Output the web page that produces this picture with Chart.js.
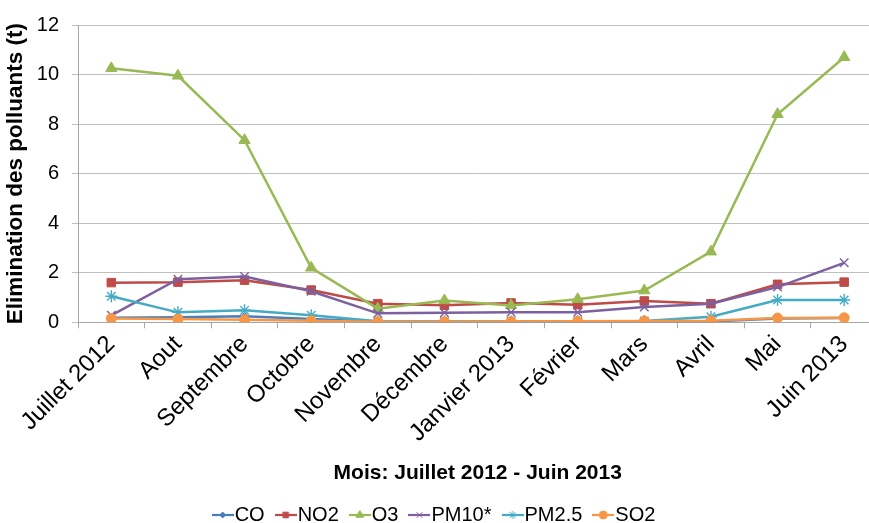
<!DOCTYPE html>
<html lang="fr">
<head>
  <meta charset="UTF-8">
  <title>Elimination des polluants</title>
  <style>
    html, body { margin: 0; padding: 0; background: #fff; overflow: hidden; }
    /* the Excel plot runs a little past the right edge of the picture,
       so the canvas is wider than the window and shifted left */
    #wrap { position: absolute; left: -9px; top: 0; width: 894px; height: 523px; }
  </style>
</head>
<body>
  <div id="wrap"><canvas id="chart"></canvas></div>

  <script src="https://cdn.jsdelivr.net/npm/chart.js@4.4.0/dist/chart.umd.min.js"></script>
  <script>
    const months = ['Juillet 2012', 'Aout', 'Septembre', 'Octobre', 'Novembre', 'Décembre',
      'Janvier 2013', 'Février', 'Mars', 'Avril', 'Mai', 'Juin 2013'];

    const co   = [0.18, 0.20, 0.24, 0.13, 0.02, 0.02, 0.02, 0.02, 0.02, 0.03, 0.15, 0.17];
    const no2  = [1.60, 1.62, 1.70, 1.30, 0.75, 0.69, 0.78, 0.71, 0.86, 0.75, 1.53, 1.62];
    const o3   = [10.25, 9.95, 7.35, 2.20, 0.55, 0.88, 0.68, 0.93, 1.28, 2.85, 8.40, 10.70];
    const pm10 = [0.28, 1.74, 1.85, 1.25, 0.36, 0.38, 0.40, 0.40, 0.62, 0.75, 1.42, 2.40];
    const pm25 = [1.05, 0.40, 0.48, 0.28, 0.04, 0.03, 0.03, 0.04, 0.05, 0.22, 0.90, 0.90];
    const so2  = [0.15, 0.13, 0.10, 0.06, 0.02, 0.02, 0.03, 0.04, 0.05, 0.06, 0.17, 0.18];

    const yTicks = [0, 2, 4, 6, 8, 10, 12];

    const fontName = '"Liberation Sans", Arial, sans-serif';

    // legend swatch: short line with the marker in the middle, like Excel
    function swatch(color, style, r) {
      const c = document.createElement('canvas');
      c.width = 22; c.height = 14;
      const g = c.getContext('2d');
      g.strokeStyle = color; g.fillStyle = color; g.lineWidth = 2.2;
      g.beginPath(); g.moveTo(0, 7); g.lineTo(22, 7); g.stroke();
      g.lineWidth = 1;
      Chart.helpers.drawPoint(g, { pointStyle: style, radius: r, borderWidth: 1 }, 11, 7);
      return c;
    }

    // later series are drawn on top, as in Excel
    function series(label, data, color, style, r, order) {
      return {
        label: label,
        data: data,
        order: order,
        borderColor: color,
        backgroundColor: color,
        borderWidth: 2.5,
        pointStyle: style,
        pointRadius: r,
        pointBorderWidth: style === 'crossRot' || style === 'star' ? 1.4 : 1,
        pointBorderColor: color,
        pointBackgroundColor: color,
        tension: 0
      };
    }

    const sets = [
      series('CO', co, '#4A7EBB', 'rectRot', 4, 6),
      series('NO2', no2, '#BE4B48', 'rect', 6, 5),
      series('O3', o3, '#98B954', 'triangle', 6.5, 4),
      series('PM10*', pm10, '#7D60A0', 'crossRot', 6, 3),
      series('PM2.5', pm25, '#46AAC5', 'star', 6, 2),
      series('SO2', so2, '#F79646', 'circle', 5, 1)
    ];

    new Chart(document.getElementById('chart'), {
      type: 'line',
      data: { labels: months, datasets: sets },
      options: {
        responsive: true,
        maintainAspectRatio: false,
        animation: false,
        layout: { padding: { top: 12, right: 0, left: 0, bottom: -12 } },
        plugins: {
          tooltip: { enabled: false },
          legend: {
            position: 'bottom',
            labels: {
              usePointStyle: true,
              pointStyleWidth: 4,
              color: '#000',
              padding: 19,
              font: { family: fontName, size: 20 },
              generateLabels: function (chart) {
                return chart.data.datasets.map(function (ds, i) {
                  let r = 4;
                  if (ds.pointStyle === 'rectRot') r = 3;
                  if (ds.pointStyle === 'triangle') r = 4.5;
                  return {
                    text: ds.label,
                    pointStyle: swatch(ds.borderColor, ds.pointStyle, r),
                    fillStyle: ds.borderColor,
                    strokeStyle: ds.borderColor,
                    lineWidth: 0,
                    fontColor: '#000',
                    datasetIndex: i
                  };
                });
              }
            }
          }
        },
        scales: {
          x: {
            offset: true,
            afterFit: function (scale) { scale.paddingRight = 0; scale.paddingLeft = 0; },
            grid: {
              offset: true,
              drawOnChartArea: false,
              color: '#A6A6A6',
              tickLength: 6
            },
            border: { color: '#A6A6A6' },
            ticks: {
              color: '#000',
              maxRotation: 45,
              minRotation: 45,
              autoSkip: false,
              padding: 2,
              font: { family: fontName, size: 24 }
            },
            title: {
              display: true,
              text: 'Mois: Juillet 2012 - Juin 2013',
              color: '#000',
              padding: { top: 11, bottom: 0 },
              font: { family: fontName, size: 21, weight: 'bold' }
            }
          },
          y: {
            min: 0,
            max: 12,
            afterFit: function (scale) { scale.width = 87; },
            afterBuildTicks: function (axis) {
              axis.ticks = yTicks.map(function (v) { return { value: v }; });
            },
            grid: {
              color: '#BFBFBF',
              tickLength: 6
            },
            border: { color: '#A6A6A6' },
            ticks: {
              color: '#000',
              padding: 13,
              font: { family: fontName, size: 20 }
            },
            title: {
              display: true,
              text: 'Elimination des polluants (t)',
              color: '#000',
              padding: { top: 11.5, bottom: 6 },
              font: { family: fontName, size: 22.5, weight: 'bold' }
            }
          }
        }
      }
    });
  </script>
</body>
</html>
